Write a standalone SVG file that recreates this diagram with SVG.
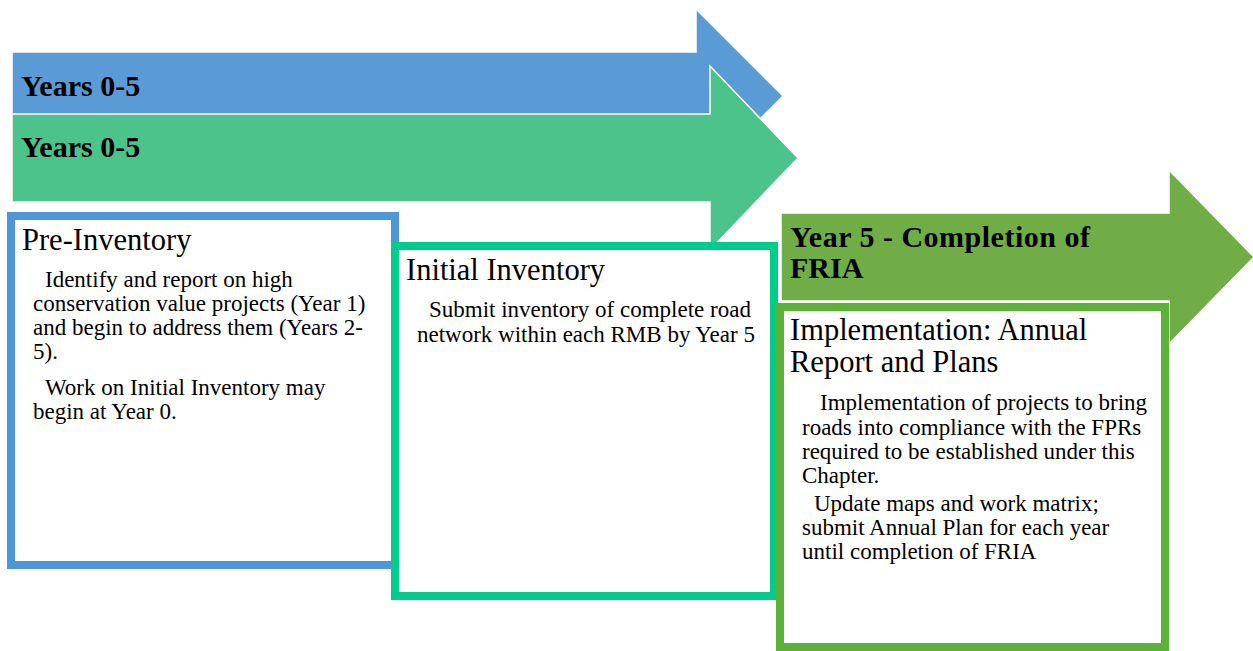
<svg xmlns="http://www.w3.org/2000/svg" width="1253" height="651" viewBox="0 0 1253 651">
<style>
.arrow{stroke:#ffffff;stroke-width:1.5;stroke-linejoin:miter}
.head{font-family:"Liberation Serif",serif;font-weight:bold;font-size:30px;fill:#000}
.title{font-family:"Liberation Serif",serif;font-size:30.5px;fill:#000}
.body{font-family:"Liberation Serif",serif;font-size:23px;fill:#000}
.box{fill:#ffffff;stroke-width:8}
</style>
<rect width="1253" height="651" fill="#ffffff"/>
<g id="arrow-years-0-5-a">
<polygon class="arrow" fill="#5B9BD5" points="12,52 696,52 696,9 783,96 696,183 696,140 12,140"/>
<text class="head" x="21" y="96">Years 0-5</text>
</g>
<g id="arrow-years-0-5-b">
<polygon class="arrow" fill="#4DC38C" points="12,114 710,114 710,66 798,158 710,250 710,202 12,202"/>
<text class="head" x="21" y="157">Years 0-5</text>
</g>
<g id="arrow-year-5">
<polygon class="arrow" fill="#70AD47" points="781,213 1169,213 1169,170 1254,257 1169,344 1169,301 781,301"/>
<text class="head" x="790" y="247" letter-spacing="0.5">Year 5 - Completion of</text>
<text class="head" x="790" y="278">FRIA</text>
</g>
<g id="box-pre-inventory">
<rect class="box" stroke="#4E96DA" x="11" y="216" width="384" height="349"/>
<text class="title" x="22" y="250">Pre-Inventory</text>
<text class="body" x="45" y="287">Identify and report on high</text>
<text class="body" x="33" y="311">conservation value projects (Year 1)</text>
<text class="body" x="33" y="335">and begin to address them (Years 2-</text>
<text class="body" x="33" y="359">5).</text>
<text class="body" x="45" y="395">Work on Initial Inventory may</text>
<text class="body" x="33" y="419">begin at Year 0.</text>
</g>
<g id="box-initial-inventory">
<rect class="box" stroke="#00CC8B" x="395" y="246" width="379" height="350"/>
<text class="title" x="406" y="280">Initial Inventory</text>
<text class="body" x="429" y="317">Submit inventory of complete road</text>
<text class="body" x="417" y="342">network within each RMB by Year 5</text>
</g>
<g id="box-implementation">
<rect class="box" stroke="#5AB238" x="780" y="307" width="385" height="340"/>
<text class="title" x="790" y="340">Implementation: Annual</text>
<text class="title" x="790" y="372">Report and Plans</text>
<text class="body" x="820" y="410">Implementation of projects to bring</text>
<text class="body" x="802" y="435">roads into compliance with the FPRs</text>
<text class="body" x="802" y="459">required to be established under this</text>
<text class="body" x="802" y="483">Chapter.</text>
<text class="body" x="814" y="511">Update maps and work matrix;</text>
<text class="body" x="802" y="535">submit Annual Plan for each year</text>
<text class="body" x="802" y="559">until completion of FRIA</text>
</g>
</svg>
